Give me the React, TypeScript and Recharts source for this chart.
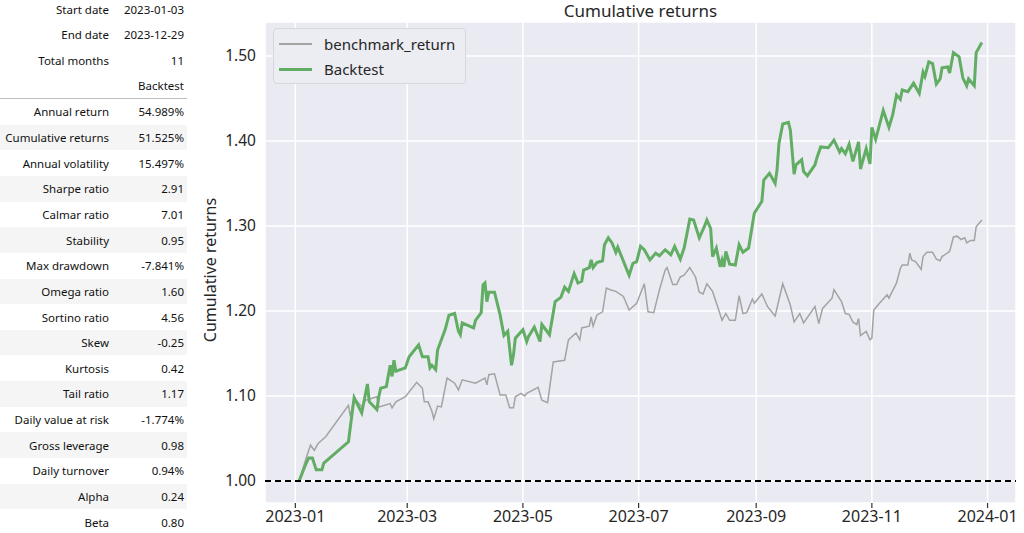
import {
  LineChart,
  Line,
  XAxis,
  YAxis,
  CartesianGrid,
  ReferenceLine,
} from 'recharts'

// days counted from 2023-01-01
const benchDays = [
  2, 6, 8, 10, 12, 16, 28, 29, 31, 35, 37, 43, 44, 50, 51, 53, 58, 64, 67, 68, 70, 72, 73, 75, 77, 80, 84,
  86, 88, 95, 100, 101, 102, 105, 108, 111, 113, 115, 116, 119, 121, 122, 128, 130, 133, 136, 142, 144,
  148, 150, 151, 155, 156, 157, 159, 162, 164, 166, 169, 173, 176, 180, 184, 186, 189, 192, 195, 196, 199,
  201, 203, 205, 208, 211, 213, 215, 217, 220, 223, 225, 227, 229, 232, 234, 236, 238, 241, 242, 246, 249,
  253, 257, 261, 263, 266, 268, 274, 276, 278, 283, 284, 288, 290, 292, 294, 296, 297, 298, 301, 303, 304,
  305, 308, 312, 313, 317, 319, 320, 323, 324, 325, 327, 330, 331, 333, 336, 338, 340, 341, 343, 345, 347,
  349, 351, 353, 354, 356, 358, 359, 362,
]
const benchValues = [
  1.0, 1.029, 1.042, 1.036, 1.044, 1.052, 1.089, 1.076, 1.098, 1.087, 1.095, 1.099, 1.087, 1.091, 1.086,
  1.093, 1.099, 1.116, 1.109, 1.093, 1.093, 1.082, 1.073, 1.088, 1.087, 1.121, 1.115, 1.107, 1.119, 1.115,
  1.121, 1.113, 1.125, 1.126, 1.101, 1.101, 1.086, 1.086, 1.099, 1.103, 1.1, 1.103, 1.11, 1.095, 1.092,
  1.14, 1.142, 1.166, 1.174, 1.166, 1.18, 1.182, 1.193, 1.182, 1.195, 1.199, 1.227, 1.225, 1.223, 1.217,
  1.201, 1.209, 1.232, 1.199, 1.198, 1.225, 1.248, 1.251, 1.231, 1.231, 1.24, 1.242, 1.251, 1.24, 1.222,
  1.22, 1.232, 1.223, 1.203, 1.189, 1.197, 1.189, 1.189, 1.218, 1.197, 1.198, 1.214, 1.209, 1.22, 1.205,
  1.194, 1.232, 1.207, 1.187, 1.197, 1.186, 1.205, 1.185, 1.203, 1.215, 1.225, 1.211, 1.197, 1.196, 1.187,
  1.184, 1.191, 1.171, 1.176, 1.166, 1.168, 1.201, 1.209, 1.219, 1.215, 1.233, 1.25, 1.254, 1.254, 1.268,
  1.26, 1.258, 1.249, 1.264, 1.269, 1.269, 1.261, 1.259, 1.264, 1.267, 1.27, 1.287, 1.288, 1.284, 1.286,
  1.28, 1.283, 1.283, 1.299, 1.307,
]

const backtestDays = [
  2, 5, 7, 9, 11, 14, 15, 28, 31, 35, 38, 39, 43, 44, 45, 48, 50, 51, 52, 53, 58, 60, 65, 67, 70, 71, 72,
  74, 75, 79, 81, 84, 86, 87, 88, 94, 95, 98, 99, 100, 101, 102, 105, 108, 110, 112, 114, 115, 116, 120,
  122, 123, 126, 129, 130, 134, 137, 140, 142, 144, 147, 149, 151, 152, 155, 156, 157, 159, 162, 163, 165,
  167, 169, 170, 176, 178, 180, 182, 184, 187, 190, 192, 195, 198, 200, 203, 205, 208, 210, 213, 216, 217,
  219, 220, 222, 224, 225, 226, 227, 229, 232, 234, 236, 239, 242, 246, 247, 250, 253, 254, 255, 257, 260,
  261, 263, 264, 267, 268, 270, 274, 275, 277, 281, 284, 287, 288, 290, 292, 294, 297, 298, 301, 303, 304,
  306, 310, 313, 315, 317, 319, 320, 323, 326, 329, 331, 332, 334, 336, 338, 340, 341, 344, 345, 347, 350,
  352, 354, 355, 358, 359, 362,
]
const backtestValues = [
  1.0, 1.017, 1.027, 1.027, 1.013, 1.013, 1.021, 1.046, 1.098, 1.08, 1.114, 1.093, 1.084, 1.099, 1.109,
  1.111, 1.136, 1.123, 1.142, 1.129, 1.133, 1.146, 1.16, 1.146, 1.146, 1.133, 1.136, 1.131, 1.154, 1.178,
  1.195, 1.197, 1.176, 1.172, 1.186, 1.18, 1.189, 1.198, 1.231, 1.233, 1.211, 1.222, 1.222, 1.195, 1.171,
  1.176, 1.136, 1.148, 1.168, 1.178, 1.164, 1.17, 1.181, 1.164, 1.184, 1.172, 1.211, 1.216, 1.228, 1.223,
  1.244, 1.233, 1.235, 1.248, 1.251, 1.26, 1.251, 1.257, 1.259, 1.278, 1.286, 1.28, 1.269, 1.275, 1.242,
  1.256, 1.258, 1.276, 1.272, 1.26, 1.268, 1.265, 1.272, 1.266, 1.276, 1.261, 1.274, 1.308, 1.307, 1.286,
  1.301, 1.307, 1.297, 1.264, 1.274, 1.252, 1.26, 1.252, 1.27, 1.255, 1.254, 1.278, 1.269, 1.274, 1.315,
  1.329, 1.354, 1.362, 1.35, 1.366, 1.397, 1.42, 1.422, 1.413, 1.361, 1.372, 1.378, 1.364, 1.359, 1.372,
  1.38, 1.393, 1.392, 1.401, 1.387, 1.391, 1.385, 1.396, 1.376, 1.399, 1.367, 1.391, 1.373, 1.416, 1.402,
  1.436, 1.416, 1.431, 1.454, 1.449, 1.46, 1.458, 1.468, 1.456, 1.481, 1.476, 1.493, 1.491, 1.467, 1.473,
  1.486, 1.487, 1.48, 1.504, 1.499, 1.474, 1.465, 1.473, 1.465, 1.504, 1.516,
]

const xTickDays = [0, 59, 120, 181, 243, 304, 365]
const xTickLabels = ['2023-01', '2023-03', '2023-05', '2023-07', '2023-09', '2023-11', '2024-01']
const yTicks = [1.0, 1.1, 1.2, 1.3, 1.4, 1.5]

const infoLabels = ['Start date', 'End date', 'Total months']
const infoValues = ['2023-01-03', '2023-12-29', '11']
const statLabels = [
  'Annual return', 'Cumulative returns', 'Annual volatility', 'Sharpe ratio', 'Calmar ratio', 'Stability',
  'Max drawdown', 'Omega ratio', 'Sortino ratio', 'Skew', 'Kurtosis', 'Tail ratio', 'Daily value at risk',
  'Gross leverage', 'Daily turnover', 'Alpha', 'Beta',
]
const statValues = [
  '54.989%', '51.525%', '15.497%', '2.91', '7.01', '0.95', '-7.841%', '1.60', '4.56', '-0.25', '0.42',
  '1.17', '-1.774%', '0.98', '0.94%', '0.24', '0.80',
]

const benchData = benchDays.map((d, i) => ({ day: d, value: benchValues[i] }))
const backtestData = backtestDays.map((d, i) => ({ day: d, value: backtestValues[i] }))

const FONT = '"Noto Sans", "Open Sans", sans-serif'
const ROW_H = 25.65
const GRAY = '#a3a3a3'
const GREEN = '#62ad64'

function StatRow({ label, value, top, shaded }: { label: string; value: string; top: number; shaded?: boolean }) {
  return (
    <div
      style={{
        position: 'absolute',
        left: 0,
        top,
        width: 187,
        height: ROW_H,
        background: shaded ? '#f5f5f5' : 'transparent',
        display: 'flex',
        alignItems: 'center',
        fontSize: 11.5,
        color: '#111',
      }}
    >
      <div style={{ width: 109, textAlign: 'right', whiteSpace: 'nowrap' }}>{label}</div>
      <div style={{ width: 75, textAlign: 'right', whiteSpace: 'nowrap' }}>{value}</div>
    </div>
  )
}

function LegendBox() {
  const items = [
    { name: 'benchmark_return', color: GRAY, width: 1.5 },
    { name: 'Backtest', color: GREEN, width: 3 },
  ]
  return (
    <div
      style={{
        position: 'absolute',
        left: 273,
        top: 28,
        width: 193,
        height: 56,
        border: '1px solid #d6d6de',
        borderRadius: 4,
        background: '#ececf3',
        fontSize: 15,
        color: '#262626',
        boxSizing: 'border-box',
      }}
    >
      {items.map((it, i) => (
        <div key={it.name} style={{ position: 'absolute', left: 5, top: 3 + i * 25, height: 24, display: 'flex', alignItems: 'center' }}>
          <div style={{ width: 33, height: it.width, background: it.color, marginRight: 12 }} />
          <span>{it.name}</span>
        </div>
      ))}
    </div>
  )
}

export default function App() {
  return (
    <div style={{ position: 'absolute', left: 0, top: 0, width: 1024, height: 533, background: '#fff', fontFamily: FONT, overflow: 'hidden' }}>
      {infoLabels.map((l, i) => (
        <StatRow key={l} label={l} value={infoValues[i]} top={9 - ROW_H / 2 + i * ROW_H} />
      ))}
      <StatRow label="" value="Backtest" top={86 - ROW_H / 2} />
      <div style={{ position: 'absolute', left: 0, top: 98, width: 187, height: 1, background: '#bdbdbd' }} />
      {statLabels.map((l, i) => (
        <StatRow key={l} label={l} value={statValues[i]} top={99 + i * ROW_H} shaded={i % 2 === 1} />
      ))}

      <div style={{ position: 'absolute', left: 265, width: 751, top: -1, textAlign: 'center', fontSize: 17, color: '#262626' }}>
        Cumulative returns
      </div>
      <div
        style={{
          position: 'absolute',
          left: 210,
          top: 270,
          transform: 'translate(-50%, -50%) rotate(-90deg)',
          fontSize: 16,
          color: '#262626',
          whiteSpace: 'nowrap',
        }}
      >
        Cumulative returns
      </div>

      <div style={{ position: 'absolute', left: 190, top: 0 }}>
        <LineChart width={834} height={533} margin={{ top: 22, right: 8, left: 0, bottom: 0 }}>
          <CartesianGrid stroke="#ffffff" strokeWidth={1.5} fill="#eaeaf2" />
          <XAxis
            type="number"
            dataKey="day"
            domain={[-16, 380]}
            ticks={xTickDays}
            tickFormatter={(v) => xTickLabels[xTickDays.indexOf(v)]}
            height={30}
            axisLine={false}
            tickLine={{ stroke: '#333', strokeWidth: 1.2 }}
            tickSize={5}
            tickMargin={3}
            tick={{ fontSize: 16, fill: '#262626' }}
            allowDataOverflow
          />
          <YAxis
            type="number"
            domain={[0.974, 1.54]}
            ticks={yTicks}
            tickFormatter={(v) => v.toFixed(2)}
            width={75}
            axisLine={false}
            tickLine={false}
            tickMargin={3}
            tick={{ fontSize: 15.5, fill: '#262626' }}
            allowDataOverflow
          />
          <Line
            data={benchData}
            dataKey="value"
            name="benchmark_return"
            type="linear"
            stroke={GRAY}
            strokeWidth={1.5}
            dot={false}
            isAnimationActive={false}
          />
          <Line
            data={backtestData}
            dataKey="value"
            name="Backtest"
            type="linear"
            stroke={GREEN}
            strokeWidth={3}
            dot={false}
            isAnimationActive={false}
          />
          <ReferenceLine y={1} stroke="#000" strokeWidth={2} strokeDasharray="6 4" />
        </LineChart>
      </div>
      <LegendBox />
    </div>
  )
}
